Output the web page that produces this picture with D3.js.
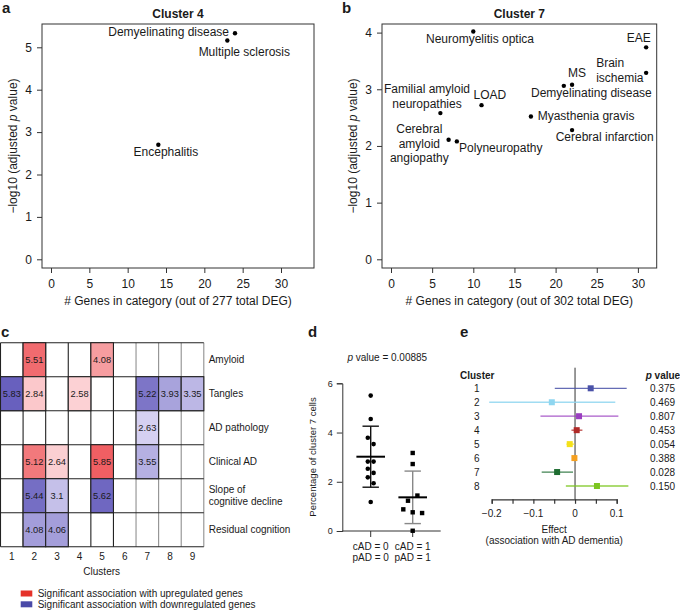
<!DOCTYPE html>
<html><head><meta charset="utf-8">
<script src="https://cdn.jsdelivr.net/npm/d3@7"></script>
<style>
body{margin:0;background:#fff}
text{font-family:"Liberation Sans",Arial,Helvetica,sans-serif;fill:#1a1a1a}
</style>
</head><body>
<svg id="fig" width="680" height="611"></svg>
<script>
// ---------- DATA ----------
// Panel a (Cluster 4)
const termsA = ["Demyelinating disease", "Multiple sclerosis", "Encephalitis"];
const genesA = [24, 23, 14];
const logpA  = [5.33, 5.16, 2.70];
const xTicksA = [0, 5, 10, 15, 20, 25, 30];
const yTicksA = [0, 1, 2, 3, 4, 5];
// Panel b (Cluster 7)
const termsB = ["Neuromyelitis optica", "EAE", "Brain\nischemia", "MS", "Demyelinating disease", "LOAD",
  "Familial amyloid\nneuropathies", "Myasthenia gravis", "Cerebral infarction", "Cerebral\namyloid\nangiopathy", "Polyneuropathy"];
const genesB = [10, 31, 31, 22, 21, 11, 6, 17, 22, 7, 8];
const logpB  = [4.02, 3.74, 3.29, 3.08, 3.06, 2.72, 2.58, 2.52, 2.28, 2.11, 2.08];
const xTicksB = [0, 5, 10, 15, 20, 25, 30];
const yTicksB = [0, 1, 2, 3, 4];
// Panel c (heatmap)
const clustersC = [1, 2, 3, 4, 5, 6, 7, 8, 9];
const traitsC = ["Amyloid", "Tangles", "AD pathology", "Clinical AD", "Slope of\ncognitive decline", "Residual cognition"];
const cellTrait   = ["Amyloid","Amyloid","Tangles","Tangles","Tangles","Tangles","Tangles","Tangles","AD pathology",
  "Clinical AD","Clinical AD","Clinical AD","Clinical AD","Slope of\ncognitive decline","Slope of\ncognitive decline","Slope of\ncognitive decline",
  "Residual cognition","Residual cognition"];
const cellCluster = [2,5, 1,2,4,7,8,9, 7, 2,3,5,7, 2,3,5, 2,3];
const cellValue   = [5.51,4.08, 5.83,2.84,2.58,5.22,3.93,3.35, 2.63, 5.12,2.64,5.85,3.55, 5.44,3.1,5.62, 4.08,4.06];
const cellDir     = ["up","up", "down","up","up","down","down","down", "down", "up","up","up","down", "down","down","down", "down","down"];
const legendC = ["Significant association with upregulated genes", "Significant association with downregulated genes"];
// Panel d
const groupsD = ["g0", "g1"];
const groupLabelsD = [["cAD = 0", "pAD = 0"], ["cAD = 1", "pAD = 1"]];
const valuesD0 = [5.50, 4.55, 3.79, 3.53, 2.82, 2.82, 2.53, 2.36, 2.18, 1.94, 1.18];
const valuesD1 = [3.17, 2.72, 1.44, 1.23, 0.88, 0.76, 0.73, 0.01];
const yTicksD = [0, 2, 4, 6];
// Panel e
const clustersE = [1, 2, 3, 4, 5, 6, 7, 8];
const effectE = [0.0376, -0.0557, 0.0096, 0.0040, -0.0127, -0.0015, -0.0430, 0.0526];
const loE     = [-0.0486, -0.206, -0.083, -0.0086, -0.0206, -0.0070, -0.0800, -0.0220];
const hiE     = [0.124, 0.0966, 0.104, 0.0177, -0.0015, 0.0040, -0.0048, 0.128];
const pvalE   = ["0.375", "0.469", "0.807", "0.453", "0.054", "0.388", "0.028", "0.150"];
const xTicksE = [-0.2, -0.15, -0.1, -0.05, 0, 0.05, 0.1];
const xLabelsE = [-0.2, -0.1, 0, 0.1];

// ---------- LAYOUT / STYLE ----------
const svg = d3.select("#fig");
const FONT = 12;
const intFmt = d3.format("d");
function multiline(sel, str, lh) {
  const lines = str.split("\n");
  const off = -(lines.length - 1) / 2 * lh;
  lines.forEach((l, i) => sel.append("tspan").attr("x", sel.attr("x")).attr("y", +sel.attr("y") + off + i * lh).attr("dy", "0.35em").text(l));
}
function panelLabel(t, x, y) {
  svg.append("text").attr("x", x).attr("y", y).attr("font-size", 15).attr("font-weight", "bold").text(t);
}

// scatter panel builder
function scatter(o) {
  const g = svg.append("g");
  const x = d3.scaleLinear().domain([0, 30]).range(o.xr);
  const y = d3.scaleLinear().domain([0, o.ymaxTick]).range(o.yr);
  g.append("rect").attr("x", o.box[0]).attr("y", o.box[1]).attr("width", o.box[2] - o.box[0]).attr("height", o.box[3] - o.box[1])
    .attr("fill", "none").attr("stroke", "#333").attr("stroke-width", 1);
  const ax = g.append("g").attr("transform", `translate(0,${o.box[3]})`)
    .call(d3.axisBottom(x).tickValues(o.xt).tickFormat(intFmt).tickSize(5).tickPadding(6));
  const ay = g.append("g").attr("transform", `translate(${o.box[0]},0)`)
    .call(d3.axisLeft(y).tickValues(o.yt).tickFormat(intFmt).tickSize(5).tickPadding(5));
  [ax, ay].forEach(a => {
    a.select(".domain").remove();
    a.selectAll("line").attr("stroke", "#333");
    a.selectAll("text").attr("font-size", FONT).attr("font-family", '"Liberation Sans",Arial,sans-serif').attr("fill", "#1a1a1a");
  });
  const cx = (o.box[0] + o.box[2]) / 2, cy = (o.box[1] + o.box[3]) / 2;
  g.append("text").attr("x", cx).attr("y", 18).attr("text-anchor", "middle").attr("font-size", 12).attr("font-weight", "bold").text(o.title);
  g.append("text").attr("x", cx).attr("y", 305).attr("text-anchor", "middle").attr("font-size", FONT).text(o.xtitle);
  const yt = g.append("text").attr("transform", `translate(${o.box[0] - 25},${cy}) rotate(-90)`).attr("text-anchor", "middle").attr("font-size", FONT);
  yt.append("tspan").text("\u2212log10 (adjusted ");
  yt.append("tspan").attr("font-style", "italic").text("p");
  yt.append("tspan").text(" value)");
  o.genes.forEach((v, i) => {
    const px = x(v), py = y(o.logp[i]);
    g.append("circle").attr("cx", px).attr("cy", py).attr("r", 2.2).attr("fill", "#000");
    const L = o.lay[i];
    const t = g.append("text").attr("x", px + L[0]).attr("y", py + L[1]).attr("text-anchor", L[2]).attr("font-size", FONT);
    multiline(t, o.terms[i], 14.5);
  });
}

// label layout: [dx, dy, anchor]
const layA = [[-6, -1.3, "end"], [-28.7, 11, "start"], [7.6, 7, "middle"]];
scatter({box: [42, 24, 314, 268], xr: [51, 281], yr: [259.3, 47.3], ymaxTick: 5, xt: xTicksA, yt: yTicksA,
  title: "Cluster 4", xtitle: "# Genes in category (out of 277 total DEG)", genes: genesA, logp: logpA, terms: termsA, lay: layA});
const layB = [[6.7, 7.5, "middle"], [4.6, -10, "end"], [-50, -2.3, "start"], [5, -12, "middle"], [-32.8, 7.1, "start"],
  [8.3, -10.2, "middle"], [-13.4, -16.6, "middle"], [6.8, -0.8, "start"], [32.6, 7.2, "middle"], [-29.3, 3.9, "middle"], [2.2, 6.6, "start"]];
scatter({box: [382, 24, 656.7, 268], xr: [391, 637.9], yr: [259.3, 32.6], ymaxTick: 4, xt: xTicksB, yt: yTicksB,
  title: "Cluster 7", xtitle: "# Genes in category (out of 302 total DEG)", genes: genesB, logp: logpB, terms: termsB, lay: layB});

panelLabel("a", 2, 13);
panelLabel("b", 342, 13);
panelLabel("c", 1, 337);
panelLabel("d", 308, 337);
panelLabel("e", 460, 337);

// ---------- Panel c ----------
(function () {
  const g = svg.append("g");
  const x = d3.scaleBand().domain(clustersC).range([0.5, 203.8]);
  const y = d3.scaleBand().domain(traitsC).range([342.7, 546.7]);
  const upC = d3.scaleLinear().domain([2.5, 6]).range(["#fcd4d7", "#ef5a5e"]);
  const dnC = d3.scaleLinear().domain([2.5, 6]).range(["#d9d5f3", "#625abb"]);
  // grid
  clustersC.concat([10]).forEach((c, i) => {
    const xx = 0.5 + i * x.bandwidth();
    g.append("line").attr("x1", xx).attr("x2", xx).attr("y1", 342.7).attr("y2", 546.7)
      .attr("stroke", i <= 5 ? "#222" : "#8f8f8f").attr("stroke-width", 1.1);
  });
  traitsC.concat(["_end"]).forEach((t, i) => {
    const yy = 342.7 + i * y.bandwidth();
    g.append("line").attr("x1", 0.5).attr("x2", 203.8).attr("y1", yy).attr("y2", yy).attr("stroke", "#222").attr("stroke-width", 1.1);
  });
  cellValue.forEach((v, i) => {
    const cx = x(cellCluster[i]), cy = y(cellTrait[i]);
    g.append("rect").attr("x", cx).attr("y", cy).attr("width", x.bandwidth()).attr("height", y.bandwidth())
      .attr("fill", cellDir[i] === "up" ? upC(v) : dnC(v)).attr("stroke", "#222").attr("stroke-width", 1.1);
    g.append("text").attr("x", cx + x.bandwidth() / 2).attr("y", cy + y.bandwidth() / 2).attr("dy", "0.35em")
      .attr("text-anchor", "middle").attr("font-size", 9.3).text(v);
  });
  traitsC.forEach(t => {
    const tt = g.append("text").attr("x", 208.7).attr("y", y(t) + y.bandwidth() / 2).attr("font-size", 10);
    multiline(tt, t, 11.7);
  });
  clustersC.forEach(c => {
    g.append("text").attr("x", x(c) + x.bandwidth() / 2).attr("y", 559.5).attr("text-anchor", "middle").attr("font-size", 10).text(c);
  });
  g.append("text").attr("x", 101.7).attr("y", 575).attr("text-anchor", "middle").attr("font-size", 10).text("Clusters");
  const legCol = ["#e5322a", "#4a4aa8"];
  legendC.forEach((l, i) => {
    g.append("rect").attr("x", 20.7).attr("y", 590.5 + i * 10.8).attr("width", 11.6).attr("height", 6).attr("fill", legCol[i]);
    g.append("text").attr("x", 37.7).attr("y", 593.5 + i * 10.8).attr("dy", "0.35em").attr("font-size", 10).text(l);
  });
})();

// ---------- Panel d ----------
(function () {
  const g = svg.append("g");
  const y = d3.scaleLinear().domain([0, 6]).range([531, 383.3]);
  const x = d3.scalePoint().domain(groupsD).range([370.7, 412.7]);
  g.append("text").attr("x", 387.3).attr("y", 360.7).attr("text-anchor", "middle").attr("font-size", 10)
    .call(t => { t.append("tspan").attr("font-style", "italic").text("p"); t.append("tspan").text(" value = 0.00885"); });
  const ay = g.append("g").attr("transform", "translate(342.3,0)").call(d3.axisLeft(y).tickValues(yTicksD).tickFormat(intFmt).tickSize(5.5).tickPadding(4));
  ay.select(".domain").attr("stroke", "#333");
  ay.selectAll("line").attr("stroke", "#333");
  ay.selectAll("text").attr("font-size", 9).attr("font-family", '"Liberation Sans",Arial,sans-serif').attr("fill", "#1a1a1a");
  g.append("line").attr("x1", 342.3).attr("x2", 440.7).attr("y1", 531).attr("y2", 531).attr("stroke", "#333");
  groupsD.forEach((gr, i) => {
    g.append("line").attr("x1", x(gr)).attr("x2", x(gr)).attr("y1", 531).attr("y2", 537).attr("stroke", "#333");
    groupLabelsD[i].forEach((l, j) => g.append("text").attr("x", x(gr)).attr("y", 550.2 + j * 11).attr("text-anchor", "middle").attr("font-size", 10).text(l));
  });
  g.append("text").attr("transform", "translate(316,457) rotate(-90)").attr("text-anchor", "middle").attr("font-size", 9.5).text("Percentage of cluster 7 cells");
  // jitter slots (layout only)
  const slots0 = [0, 0, -1, 1, -1, 1, -1, 1, -1, 1, 0];
  const slots1 = [0, 0, 1, -1, -2, 0, 2, 0];
  const sets = [[valuesD0, slots0, 2.9, "#111", "circle"], [valuesD1, slots1, 4.7, "#888", "square"]];
  sets.forEach(([vals, slots, sp, ec, shape], k) => {
    const cx = x(groupsD[k]);
    const m = d3.mean(vals), s = d3.deviation(vals);
    g.append("line").attr("x1", cx).attr("x2", cx).attr("y1", y(m + s)).attr("y2", y(m - s)).attr("stroke", ec).attr("stroke-width", 1.4);
    [m + s, m - s].forEach(v => g.append("line").attr("x1", cx - 8.2).attr("x2", cx + 8.2).attr("y1", y(v)).attr("y2", y(v)).attr("stroke", ec).attr("stroke-width", 1.4));
    vals.forEach((v, i) => {
      const px = cx + slots[i] * sp, py = y(v);
      if (shape === "circle") g.append("circle").attr("cx", px).attr("cy", py).attr("r", 2.3).attr("fill", "#000");
      else g.append("rect").attr("x", px - 2.2).attr("y", py - 2.2).attr("width", 4.4).attr("height", 4.4).attr("fill", "#000");
    });
    g.append("line").attr("x1", cx - 14.3).attr("x2", cx + 14.3).attr("y1", y(m)).attr("y2", y(m)).attr("stroke", "#000").attr("stroke-width", 2);
  });
})();

// ---------- Panel e ----------
(function () {
  const g = svg.append("g");
  const x = d3.scaleLinear().domain([-0.2, 0.1]).range([491.7, 616.7]);
  const y = d3.scalePoint().domain(clustersE).range([388.3, 486]);
  const colE = ["#4a52a8", "#8fd6f0", "#9a3fc0", "#b02a28", "#f4e11a", "#f5a020", "#1f6d32", "#7cc520"];
  g.append("text").attr("x", 460).attr("y", 379).attr("font-size", 10).attr("font-weight", "bold").text("Cluster");
  g.append("text").attr("x", 645.7).attr("y", 379).attr("font-size", 10).attr("font-weight", "bold")
    .call(t => { t.append("tspan").attr("font-style", "italic").text("p"); t.append("tspan").text(" value"); });
  g.append("line").attr("x1", x(0)).attr("x2", x(0)).attr("y1", 367.7).attr("y2", 499.3).attr("stroke", "#333").attr("stroke-width", 1);
  const ax = g.append("g").attr("transform", "translate(0,499.3)").call(d3.axisBottom(x).tickValues(xTicksE).tickSize(4.5).tickFormat(() => ""));
  ax.select(".domain").attr("stroke", "#333").attr("stroke-width", 1.2);
  ax.selectAll("line").attr("stroke", "#333").attr("stroke-width", 1.2);
  xLabelsE.forEach(v => g.append("text").attr("x", x(v)).attr("y", 517).attr("text-anchor", "middle").attr("font-size", 10)
    .text(v === 0 ? "0" : d3.format(".1f")(v).replace("-", "\u2212")));
  g.append("text").attr("x", 554.2).attr("y", 532.8).attr("text-anchor", "middle").attr("font-size", 10).text("Effect");
  g.append("text").attr("x", 554.2).attr("y", 544.2).attr("text-anchor", "middle").attr("font-size", 10).text("(association with AD dementia)");
  clustersE.forEach((c, i) => {
    const yy = y(c);
    g.append("text").attr("x", 476.7).attr("y", yy).attr("dy", "0.35em").attr("text-anchor", "middle").attr("font-size", 10).text(c);
    g.append("line").attr("x1", x(loE[i])).attr("x2", x(hiE[i])).attr("y1", yy).attr("y2", yy).attr("stroke", colE[i]).attr("stroke-width", 1.3).attr("stroke-opacity", 0.85);
    g.append("rect").attr("x", x(effectE[i]) - 3).attr("y", yy - 3).attr("width", 6).attr("height", 6).attr("fill", colE[i]);
    g.append("text").attr("x", 650).attr("y", yy).attr("dy", "0.35em").attr("font-size", 10).text(pvalE[i]);
  });
})();
</script>
</body></html>
